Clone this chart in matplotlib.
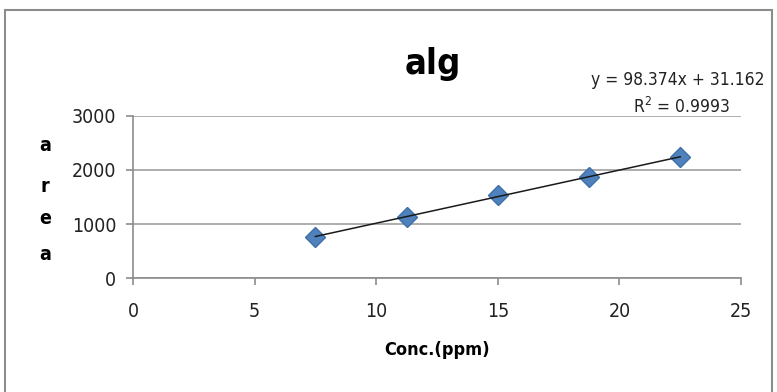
import numpy as np
import matplotlib.pyplot as plt
from matplotlib.patches import Rectangle

# calibration points
conc = [7.5, 11.25, 15, 18.75, 22.5]
area = [760, 1135, 1540, 1865, 2240]

# trendline reported on the chart
slope = 98.374
intercept = 31.162
r_squared = 0.9993

x_ticks = [0, 5, 10, 15, 20, 25]
y_ticks = [0, 1000, 2000, 3000]

plt.rcParams['font.family'] = ['DejaVu Sans']
plt.rcParams['font.stretch'] = 'condensed'

fig = plt.figure(figsize=(7.77, 3.92), dpi=100)
ax = fig.add_axes([0.1712, 0.2908, 0.7825, 0.4133])

# chart-area border
fig.patches.append(Rectangle((5 / 777, -0.02), 767 / 777, 0.9945, transform=fig.transFigure,
                             fill=False, edgecolor='#8c8c8c', linewidth=1.5))

ax.plot(conc, area, linestyle='none', marker='D', markersize=10,
        markerfacecolor='#4F81BD', markeredgecolor='#3F6FA8', zorder=3)

fit_x = np.array([conc[0], conc[-1]])
ax.plot(fit_x, slope * fit_x + intercept, color='#1a1a1a', linewidth=1.1, zorder=4)

ax.set_xlim(0, 25)
ax.set_ylim(0, 3000)
ax.set_xticks(x_ticks)
ax.set_yticks(y_ticks)
ax.yaxis.grid(True, color='#a0a0a0', linewidth=1.2)
ax.set_axisbelow(True)

for side in ['top', 'right']:
    ax.spines[side].set_visible(False)
for side in ['left', 'bottom']:
    ax.spines[side].set_color('#8c8c8c')
    ax.spines[side].set_linewidth(1.2)
ax.tick_params(axis='both', colors='#8c8c8c', length=5, width=1.2,
               labelsize=14, labelcolor='#222222')
ax.tick_params(axis='x', pad=12)
ax.tick_params(axis='y', pad=7)

ax.set_xlabel('Conc.(ppm)', fontsize=13, fontweight='bold', labelpad=15)

# vertical "area" label, one letter per line
for letter, ypos in zip('area', [145, 186, 219, 255]):
    fig.text(45 / 777, 1 - ypos / 392, letter, fontsize=14, fontweight='bold',
             ha='center', va='center')

fig.text(433 / 777, 1 - 64 / 392, 'alg', fontsize=26, fontweight='bold',
         ha='center', va='center')

fig.text(678 / 777, 1 - 80 / 392, f'y = {slope}x + {intercept}', fontsize=12.5,
         ha='center', va='center', color='#222222')
fig.text(681 / 777, 1 - 107 / 392, f'R$^2$ = {r_squared}', fontsize=12.5,
         ha='center', va='center', color='#222222')

fig.savefig('out.png', dpi=100)
